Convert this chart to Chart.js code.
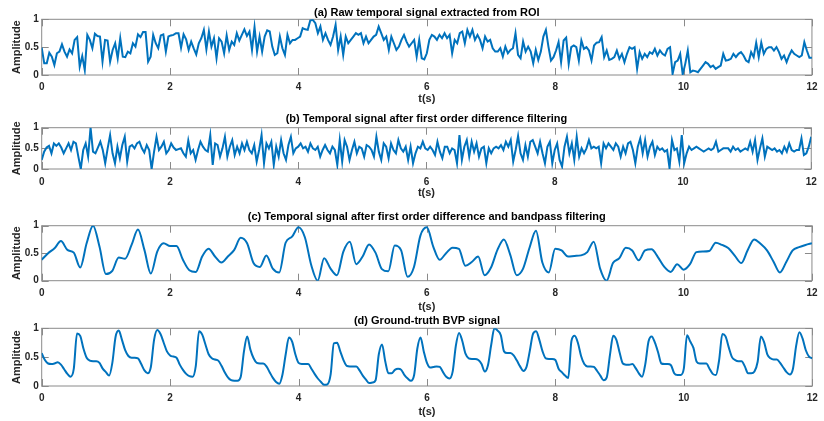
<!DOCTYPE html>
<html>
<head>
<meta charset="utf-8">
<script src="https://cdn.jsdelivr.net/npm/chart.js@4.4.1/dist/chart.umd.min.js"></script>
<style>
  html, body { margin: 0; padding: 0; background: #fff; overflow: hidden; }
  #wrap { position: relative; width: 824px; height: 421px; }
  canvas { position: absolute; left: 0; }
</style>
</head>
<body>
<div id="wrap"></div>
<script>
// ---- data (12 s of signal per panel) ----
const duration = 12;
const xTicks = [0, 2, 4, 6, 8, 10, 12];
const yTicks = [0, 0.5, 1];

const panelTitles = [
  '(a) Raw temporal signal extracted from ROI',
  '(b) Temporal signal after first order difference filtering',
  '(c) Temporal signal after first order difference and bandpass filtering',
  '(d) Ground-truth BVP signal'
];

const rawSignal = [
  0.49,0.21,0.21,0.4,0.33,0.18,0.39,0.42,0.55,0.42,
  0.33,0.46,0.39,0.63,0.68,0.15,0.34,0.09,0.72,0.63,
  0.48,0.74,0.70,0.69,0.24,0.63,0.62,0.24,0.45,0.57,
  0.30,0.66,0.33,0.32,0.42,0.39,0.57,0.51,0.73,0.68,
  0.77,0.77,0.24,0.33,0.72,0.57,0.48,0.71,0.73,0.42,
  0.69,0.71,0.72,0.75,0.75,0.49,0.73,0.64,0.45,0.6,
  0.48,0.37,0.57,0.66,0.81,0.46,0.78,0.51,0.66,0.3,
  0.66,0.6,0.39,0.71,0.45,0.6,0.54,0.75,0.62,0.72,
  0.82,0.7,0.78,0.45,0.86,0.42,0.69,0.42,0.69,0.8,
  0.78,0.51,0.36,0.39,0.69,0.48,0.36,0.72,0.57,0.63,
  0.63,0.66,0.69,0.84,0.82,0.81,0.98,0.99,0.93,0.75,
  0.87,0.63,0.75,0.63,0.54,0.69,0.9,0.45,0.69,0.36,
  0.69,0.57,0.63,0.69,0.75,0.72,0.75,0.57,0.69,0.57,
  0.63,0.69,0.72,0.87,0.75,0.63,0.69,0.45,0.69,0.57,
  0.45,0.51,0.63,0.72,0.6,0.51,0.57,0.63,0.33,0.63,
  0.3,0.28,0.39,0.63,0.72,0.69,0.63,0.72,0.66,0.75,
  0.66,0.72,0.39,0.63,0.57,0.75,0.78,0.57,0.81,0.69,
  0.81,0.63,0.72,0.63,0.48,0.69,0.6,0.63,0.48,0.42,
  0.42,0.48,0.33,0.51,0.39,0.45,0.48,0.75,0.36,
  0.3,0.6,0.42,0.51,0.42,0.21,0.45,0.27,0.42,0.69,
  0.81,0.51,
  0.26,0.32,0.44,0.59,0.23,0.62,0.67,0.2,0.5,0.53,
  0.5,0.26,0.62,0.47,0.5,0.44,0.26,0.53,0.58,0.59,
  0.68,0.32,0.44,0.27,0.29,0.32,0.44,0.29,0.38,
  0.23,0.38,0.5,0.47,0.5,0.11,0.41,0.29,0.38,0.32,
  0.41,0.38,0.47,0.35,0.44,0.38,0.35,0.47,0.5,0.02,
  0.23,0.26,0.38,0.01,0.2,0.44,0.05,0.08,0.07,0.05,
  0.11,0.17,0.23,0.2,0.14,0.17,0.11,0.14,0.17,0.38,
  0.26,0.27,0.29,0.38,0.32,0.38,0.41,0.35,0.26,
  0.23,0.41,0.32,0.58,0.32,0.58,0.38,0.47,0.5,
  0.5,0.44,0.5,0.41,0.29,0.35,0.23,0.35,0.44,0.38,
  0.35,0.32,0.35,0.59,0.44,0.31,0.31
];

const diffSignal = [
  0.22,0.42,0.52,0.56,0.38,0.62,0.56,0.62,
  0.52,0.38,0.5,0.62,0.46,0.66,0.62,0.3,0.0,0.46,
  0.62,0.3,1.0,0.42,0.38,0.52,0.66,0.46,0.14,0.5,
  0.82,0.38,0.14,0.54,0.26,0.58,0.78,0.18,0.54,0.58,
  0.5,0.62,0.66,0.5,0.4,0.58,0.46,0.0,
  0.42,0.78,0.46,0.54,0.66,0.38,0.46,0.62,0.52,0.46,
  0.48,0.5,0.38,0.3,0.69,0.38,0.46,0.22,0.46,0.66,
  0.54,0.46,0.42,0.82,0.1,0.62,0.58,0.3,0.5,0.78,
  0.3,0.54,0.7,0.34,0.54,0.38,0.62,0.46,0.66,0.46,
  0.38,0.58,0.18,0.46,0.82,0.14,0.62,0.5,0.66,0.1,
  0.54,0.3,
  0.7,0.38,0.22,0.58,0.78,0.38,0.5,0.54,0.62,0.5,
  0.54,0.42,0.62,0.5,0.46,0.54,0.3,0.46,0.58,0.46,
  0.38,0.54,0.46,0.1,0.7,0.18,0.7,0.54,0.22,0.46,
  0.66,0.38,0.54,0.5,0.3,0.58,0.54,0.46,0.3,0.78,
  0.42,0.22,0.62,0.54,0.26,0.62,0.46,0.38,0.7,0.5,
  0.42,0.54,0.22,0.54,0.14,0.38,0.54,0.5,0.66,0.5,
  0.46,0.54,0.46,0.34,0.66,0.42,0.26,0.54,0.54,0.38,
  0.5,0.46,0.14,0.82,0.22,0.54,0.7,0.3,0.66,0.42,
  0.62,0.3,0.5,0.54,0.14,0.5,0.38,0.5,0.54,0.5,
  0.58,0.46,0.66,0.54,0.7,0.18,0.46,0.8,0.38,0.22,
  0.58,0.3,0.66,0.7,0.54,0.38,0.66,0.38,0.14,
  0.54,0.66,0.14,0.46,0.62,0.22,0.06,0.54,0.78,0.38,
  0.62,0.22,0.78,0.3,0.5,0.38,0.5,0.7,0.5,0.54,
  0.5,0.54,0.14,0.62,0.5,0.62,0.54,0.46,0.62,0.54,
  0.3,0.54,0.38,0.62,0.66,0.46,0.14,0.54,0.74,0.38,
  0.7,0.3,0.54,0.66,0.34,0.54,0.46,0.5,0.42,0.46,
  0.02,0.7,0.46,0.5,0.18,0.82,0.14,0.38,0.54,0.46,
  0.5,0.54,0.5,0.46,0.42,0.46,0.5,0.46,0.5,0.66,
  0.42,0.46,0.5,0.5,0.5,0.42,0.54,0.46,0.5,0.42,
  0.46,0.5,0.46,0.66,0.42,0.7,0.22,0.5,0.74,0.3,
  0.54,0.5,0.46,0.5,0.42,0.46,0.38,0.54,0.42,0.62,
  0.46,0.42,0.46,0.46,0.74,0.34,0.38,0.54,0.78
];

// sampled every 0.1 s
const bandpassSignal = [
  0.38,0.5,0.59,0.72,0.56,0.51,0.24,0.68,1.0,0.62,
  0.12,0.18,0.42,0.4,0.65,0.93,0.56,0.13,0.53,0.68,
  0.63,0.63,0.38,0.19,0.16,0.44,0.58,0.44,0.33,0.44,
  0.56,0.78,0.68,0.32,0.25,0.46,0.22,0.15,0.69,0.8,
  0.97,0.79,0.28,0.0,0.41,0.22,0.1,0.53,0.71,0.3,
  0.44,0.66,0.51,0.21,0.17,0.64,0.55,0.07,0.25,0.82,
  0.97,0.62,0.38,0.5,0.6,0.58,0.27,0.34,0.44,0.1,
  0.24,0.56,0.75,0.47,0.1,0.22,0.6,0.91,0.33,0.15,
  0.58,0.55,0.44,0.45,0.46,0.52,0.71,0.22,0.0,0.32,
  0.41,0.6,0.55,0.37,0.55,0.57,0.43,0.25,0.16,0.3,
  0.2,0.3,0.52,0.53,0.54,0.69,0.65,0.59,0.45,0.32,
  0.56,0.75,0.67,0.55,0.35,0.15,0.34,0.55,0.61,0.65,
  0.68
];

// sampled every 0.05 s
const bvpSignal = [
  0.57,0.45,0.39,0.38,0.39,0.41,0.37,0.29,0.21,0.16,
  0.3,0.91,0.87,0.65,0.49,0.44,0.43,0.43,0.4,0.3,
  0.24,0.18,0.4,0.85,0.96,0.8,0.62,0.52,0.49,0.49,
  0.48,0.38,0.27,0.22,0.33,0.8,0.97,0.9,0.75,0.6,
  0.53,0.51,0.49,0.37,0.28,0.21,0.17,0.16,0.35,0.95,
  0.89,0.72,0.55,0.48,0.46,0.44,0.35,0.24,0.15,0.1,
  0.09,0.09,0.16,0.6,0.86,0.63,0.48,0.4,0.39,0.39,
  0.34,0.24,0.14,0.07,0.04,0.2,0.55,0.84,0.77,0.55,
  0.4,0.38,0.38,0.38,0.3,0.21,0.13,0.07,0.02,0.03,
  0.2,0.74,0.75,0.6,0.45,0.35,0.34,0.34,0.34,0.27,
  0.18,0.11,0.05,0.06,0.1,0.55,0.72,0.43,0.22,0.22,
  0.28,0.3,0.28,0.19,0.13,0.09,0.19,0.65,0.84,0.6,
  0.4,0.32,0.33,0.34,0.33,0.24,0.16,0.13,0.25,0.7,
  0.92,0.78,0.56,0.48,0.47,0.47,0.45,0.38,0.25,0.36,
  0.71,1.0,0.96,0.88,0.6,0.57,0.57,0.53,0.44,0.34,
  0.26,0.33,0.6,0.9,0.95,0.8,0.6,0.48,0.47,0.47,
  0.45,0.3,0.24,0.18,0.14,0.78,0.87,0.75,0.52,0.38,
  0.34,0.34,0.33,0.26,0.18,0.1,0.15,0.54,0.87,0.8,
  0.58,0.39,0.37,0.37,0.38,0.31,0.22,0.16,0.38,0.77,
  0.86,0.75,0.58,0.39,0.38,0.38,0.36,0.22,0.19,0.19,
  0.3,0.88,0.77,0.66,0.42,0.39,0.39,0.39,0.3,0.21,
  0.19,0.45,0.9,0.86,0.67,0.5,0.45,0.43,0.43,0.34,
  0.22,0.22,0.25,0.42,0.86,0.76,0.55,0.48,0.46,0.46,
  0.4,0.32,0.24,0.2,0.3,0.7,0.93,0.82,0.62,0.51,
  0.48
];

const seriesList = [rawSignal, diffSignal, bandpassSignal, bvpSignal];

// ---- layout of the four stacked axes (page pixels) ----
const PLOT_LEFT = 41.7, PLOT_RIGHT = 817.5;
const panels = [
  { top: 3,   height: 106, plotTop: 19.3,  plotBottom: 75,    titleY: 12.6,  tickY: 86,    xTitleY: 99 },
  { top: 110, height: 94,  plotTop: 127.7, plotBottom: 169,   titleY: 119.3, tickY: 180.7, xTitleY: 193.3 },
  { top: 208, height: 109, plotTop: 225.7, plotBottom: 280.7, titleY: 217.3, tickY: 291.7, xTitleY: 306.7 },
  { top: 312, height: 109, plotTop: 328.3, plotBottom: 386,   titleY: 321,   tickY: 396.7, xTitleY: 411.7 }
];

const FONT = '"Liberation Sans", Arial, Helvetica, sans-serif';
const LINE_BLUE = '#0072BD';
const TITLE_SIZE = 11;

// MATLAB style box with inward ticks, drawn under the line
const boxPlugin = {
  id: 'matlabBox',
  beforeDatasetsDraw(chart) {
    const { ctx, chartArea: a, scales: { x, y } } = chart;
    const tl = 7;
    ctx.save();
    ctx.strokeStyle = '#8a8a8a';
    ctx.lineWidth = 1;
    ctx.strokeRect(a.left, a.top, a.right - a.left, a.bottom - a.top);
    ctx.beginPath();
    x.ticks.forEach(t => {
      const px = Math.round(x.getPixelForValue(t.value)) + 0.5;
      ctx.moveTo(px, a.bottom); ctx.lineTo(px, a.bottom - tl);
      ctx.moveTo(px, a.top);    ctx.lineTo(px, a.top + tl);
    });
    y.ticks.forEach(t => {
      const py = Math.round(y.getPixelForValue(t.value)) + 0.5;
      ctx.moveTo(a.left, py);  ctx.lineTo(a.left + tl, py);
      ctx.moveTo(a.right, py); ctx.lineTo(a.right - tl, py);
    });
    ctx.stroke();
    ctx.restore();
  }
};

function renderPanel(i) {
  const p = panels[i];
  const values = seriesList[i];
  const canvas = document.createElement('canvas');
  canvas.width = 824;
  canvas.height = p.height;
  canvas.style.top = p.top + 'px';
  canvas.style.width = '824px';
  canvas.style.height = p.height + 'px';
  document.getElementById('wrap').appendChild(canvas);

  const plotTop = p.plotTop - p.top;
  const plotBottom = p.plotBottom - p.top;
  const titleY = p.titleY - p.top;
  const halfTitle = TITLE_SIZE * 1.2 / 2;
  const tickPad = p.tickY - p.plotBottom - 4.5;
  const xTitlePadBottom = p.height - (p.xTitleY - p.top) - 6.6;

  const step = duration / (values.length - 1);
  const points = values.map((v, k) => ({ x: k * step, y: v }));

  new Chart(canvas.getContext('2d'), {
    type: 'line',
    data: {
      datasets: [{
        data: points,
        borderColor: LINE_BLUE,
        borderWidth: 2,
        pointRadius: 0,
        fill: false,
        tension: i >= 2 ? 0.4 : 0,
        cubicInterpolationMode: i >= 2 ? 'monotone' : 'default'
      }]
    },
    options: {
      responsive: false,
      animation: false,
      devicePixelRatio: 1,
      layout: { padding: { left: 0, right: 824 - PLOT_RIGHT, top: 0, bottom: 0 } },
      plugins: {
        legend: { display: false },
        tooltip: { enabled: false },
        title: {
          display: true,
          text: panelTitles[i],
          fullSize: false,
          color: '#000',
          font: { family: FONT, size: TITLE_SIZE, weight: 'bold', lineHeight: 1.2 },
          padding: { top: titleY - halfTitle, bottom: Math.max(0, plotTop - titleY - halfTitle) }
        }
      },
      scales: {
        x: {
          type: 'linear',
          min: 0,
          max: duration,
          afterBuildTicks: s => { s.ticks = xTicks.map(v => ({ value: v })); },
          afterFit: s => { s.height = p.height - plotBottom; },
          grid: { display: false, drawTicks: false },
          border: { display: false },
          ticks: {
            color: '#262626',
            padding: tickPad,
            maxRotation: 0,
            font: { family: FONT, size: 10, weight: 'bold', lineHeight: 1.2 },
            callback: v => String(v)
          },
          title: {
            display: true,
            text: 't(s)',
            color: '#262626',
            font: { family: FONT, size: 11, weight: 'bold', lineHeight: 1.2 },
            padding: { top: 0, bottom: xTitlePadBottom }
          }
        },
        y: {
          min: 0,
          max: 1,
          afterBuildTicks: s => { s.ticks = yTicks.map(v => ({ value: v })); },
          afterFit: s => { s.width = PLOT_LEFT; },
          grid: { display: false, drawTicks: false },
          border: { display: false },
          ticks: {
            color: '#262626',
            padding: 3,
            font: { family: FONT, size: 10, weight: 'bold', lineHeight: 1.2 },
            callback: v => String(v)
          },
          title: {
            display: true,
            text: 'Amplitude',
            color: '#262626',
            font: { family: FONT, size: 11, weight: 'bold', lineHeight: 1.2 },
            padding: { top: 10, bottom: 0 }
          }
        }
      }
    },
    plugins: [boxPlugin]
  });
}

panels.forEach((p, i) => renderPanel(i));
</script>
</body>
</html>
